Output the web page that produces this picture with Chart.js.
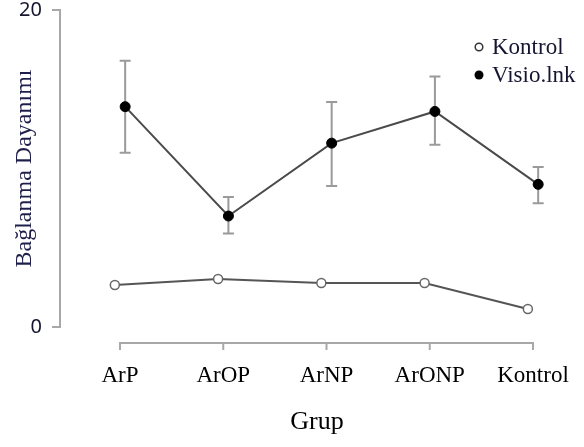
<!DOCTYPE html>
<html><head><meta charset="utf-8">
<script src="https://cdn.jsdelivr.net/npm/chart.js@4"></script>
<style>html,body{margin:0;padding:0;background:#fff}#wrap{width:584px;height:447px}</style>
</head><body><div id="wrap"><canvas id="c"></canvas></div>
<script>
const categories = ['ArP', 'ArOP', 'ArNP', 'ArONP', 'Kontrol'];
const seriesLabels = ['Kontrol', 'Visio.lnk'];
const kontrolValues = [2.65, 3.03, 2.78, 2.78, 1.14];
const visioValues = [13.9, 7.0, 11.6, 13.6, 9.0];
const visioUpper = [16.8, 8.2, 14.2, 15.8, 10.1];
const visioLower = [11.0, 5.9, 8.9, 11.5, 7.8];
const yTickValues = [0, 20];
const yTitle = 'Bağlanma Dayanımı';
const xTitle = 'Grup';

const DODGE = 0.05;
const SERIF = '"Liberation Serif", "Times New Roman", serif';
const TXT = '#151530';

const kontrolPts = kontrolValues.map((v, i) => ({x: i - DODGE, y: v}));
const visioPts = visioValues.map((v, i) => ({x: i + DODGE, y: v}));

const errorBarPlugin = {
  id: 'errorBars',
  beforeDatasetsDraw(chart) {
    const {ctx, scales: {x, y}} = chart;
    ctx.save();
    ctx.strokeStyle = '#9a9a9a';
    ctx.lineWidth = 2;
    visioValues.forEach((v, i) => {
      const px = x.getPixelForValue(i + DODGE);
      const t = y.getPixelForValue(visioUpper[i]);
      const b = y.getPixelForValue(visioLower[i]);
      ctx.beginPath();
      ctx.moveTo(px, t); ctx.lineTo(px, b);
      ctx.moveTo(px - 5.5, t); ctx.lineTo(px + 5.5, t);
      ctx.moveTo(px - 5.5, b); ctx.lineTo(px + 5.5, b);
      ctx.stroke();
    });
    ctx.restore();
  }
};

const axisPlugin = {
  id: 'detachedX',
  afterDraw(chart) {
    const {ctx, scales: {x, y}} = chart;
    const ay = Math.round(y.getPixelForValue(0)) + 16;
    const x0 = x.getPixelForValue(0);
    const x1 = x.getPixelForValue(categories.length - 1);
    ctx.save();
    ctx.strokeStyle = '#a8a8a8';
    ctx.lineWidth = 2;
    ctx.beginPath();
    ctx.moveTo(x0, ay); ctx.lineTo(x1, ay);
    categories.forEach((c, i) => {
      const px = x.getPixelForValue(i);
      ctx.moveTo(px, ay - 1); ctx.lineTo(px, ay + 7);
    });
    ctx.stroke();
    ctx.restore();
  }
};

const legendPlugin = {
  id: 'customLegend',
  afterDraw(chart) {
    const {ctx} = chart;
    ctx.save();
    ctx.font = '23px ' + SERIF;
    ctx.textBaseline = 'middle';
    ctx.fillStyle = TXT;
    const lx = 479, ly = 47, gap = 28;
    seriesLabels.forEach((lab, i) => {
      const yy = ly + i * gap;
      ctx.beginPath();
      ctx.arc(lx, yy, i === 0 ? 3.8 : 4.5, 0, Math.PI * 2);
      if (i === 0) {
        ctx.fillStyle = '#fff'; ctx.fill();
        ctx.strokeStyle = '#333'; ctx.lineWidth = 1.5; ctx.stroke();
      } else {
        ctx.fillStyle = '#000'; ctx.fill();
      }
      ctx.fillStyle = TXT;
      ctx.fillText(lab, lx + 13, yy + 1);
    });
    ctx.restore();
  }
};

new Chart(document.getElementById('c'), {
  type: 'line',
  data: {
    datasets: [
      {
        label: seriesLabels[0], data: kontrolPts,
        borderColor: '#555', borderWidth: 2,
        pointRadius: 4.5, pointBackgroundColor: '#fff', pointBorderColor: '#666', pointBorderWidth: 1.5,
        clip: false
      },
      {
        label: seriesLabels[1], data: visioPts,
        borderColor: '#4a4a4a', borderWidth: 2,
        pointRadius: 5, pointBackgroundColor: '#000', pointBorderColor: '#000', pointBorderWidth: 1,
        clip: false
      }
    ]
  },
  options: {
    responsive: true, maintainAspectRatio: false, animation: false, devicePixelRatio: 1,
    layout: {padding: {top: 10, right: 10, left: 0, bottom: 0}},
    plugins: {legend: {display: false}, tooltip: {enabled: false}},
    scales: {
      x: {
        type: 'linear', min: -0.5811, max: 4.397,
        grid: {display: false}, border: {display: false},
        afterBuildTicks(s) { s.ticks = categories.map((c, i) => ({value: i})); },
        afterFit(s) { s.height = 120; s.paddingLeft = 0; s.paddingRight = 0; },
        ticks: {
          autoSkip: false, maxRotation: 0, padding: 27,
          color: '#000', font: {family: SERIF, size: 23},
          callback: (v) => categories[v] ?? ''
        },
        title: {display: true, text: xTitle, color: '#000', font: {family: SERIF, size: 26}, padding: {top: 0, bottom: 9}}
      },
      y: {
        min: 0, max: 20,
        afterBuildTicks(s) { s.ticks = yTickValues.map(v => ({value: v})); },
        afterFit(s) { s.width = 60; s.paddingTop = 0; s.paddingBottom = 0; },
        grid: {display: true, drawOnChartArea: false, drawTicks: true, tickLength: 8, color: '#a8a8a8', lineWidth: 2},
        border: {display: true, color: '#a8a8a8', width: 2},
        ticks: {padding: 10, color: TXT, font: {family: '"Noto Sans", sans-serif', size: 20}},
        title: {display: true, text: yTitle, color: '#1e1e4a', font: {family: SERIF, size: 24}, padding: {top: 10, bottom: 0}}
      }
    }
  },
  plugins: [errorBarPlugin, axisPlugin, legendPlugin]
});
</script>
</body></html>
